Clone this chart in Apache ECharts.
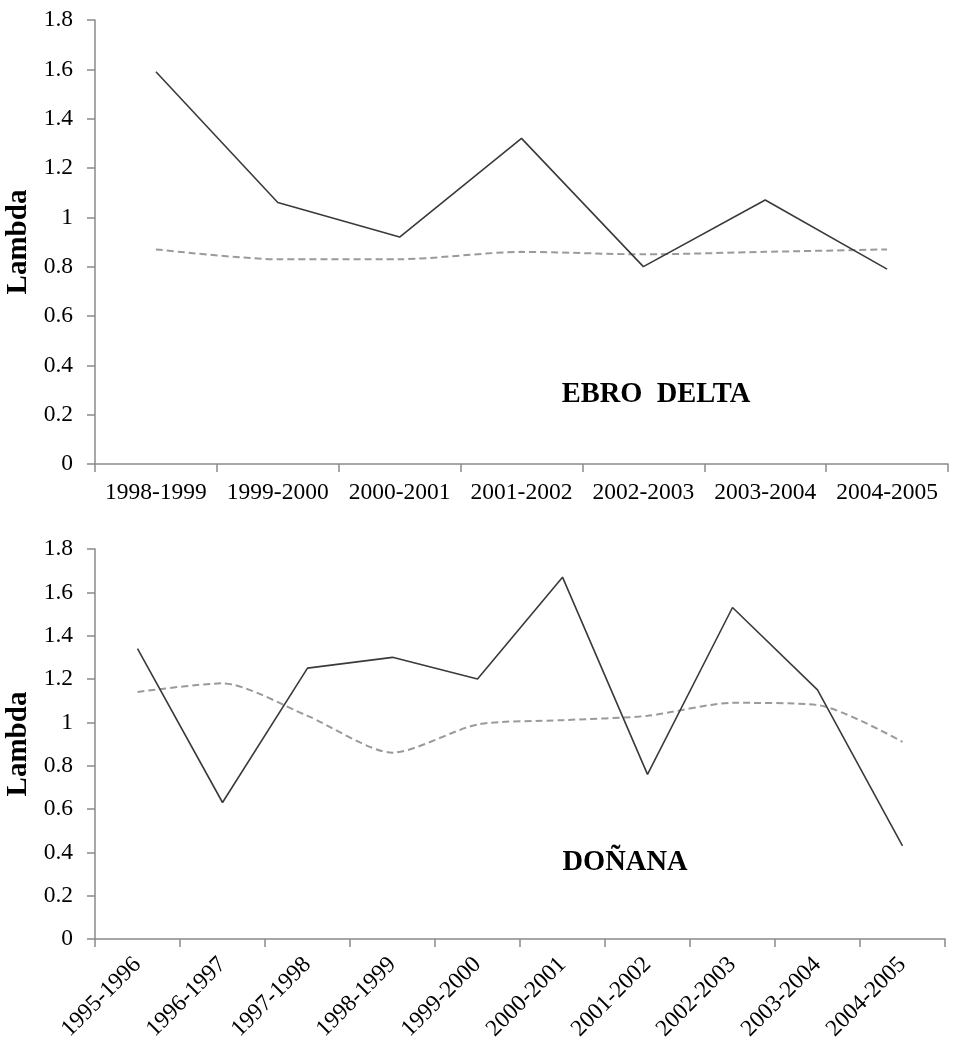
<!DOCTYPE html>
<html>
<head>
<meta charset="utf-8">
<script src="https://cdn.jsdelivr.net/npm/echarts@6/dist/echarts.min.js"></script>
<style>
html,body{margin:0;padding:0;background:#fff;}
#c{width:953px;height:1050px;}
</style>
</head>
<body>
<div id="c"></div>
<script>
const ebroCategories = ['1998-1999','1999-2000','2000-2001','2001-2002','2002-2003','2003-2004','2004-2005'];
const ebroSolid = [1.59, 1.06, 0.92, 1.32, 0.80, 1.07, 0.79];
const ebroDashed = [0.87, 0.83, 0.83, 0.86, 0.85, 0.86, 0.87];

const donanaCategories = ['1995-1996','1996-1997','1997-1998','1998-1999','1999-2000','2000-2001','2001-2002','2002-2003','2003-2004','2004-2005'];
const donanaSolid = [1.34, 0.63, 1.25, 1.30, 1.20, 1.67, 0.76, 1.53, 1.15, 0.43];
const donanaDashed = [1.14, 1.18, 1.03, 0.86, 0.99, 1.01, 1.03, 1.09, 1.08, 0.91];

const yTicks = {min: 0, max: 1.8, interval: 0.2};
const yName = 'Lambda';
const ebroTitle = 'EBRO  DELTA';
const donanaTitle = 'DOÑANA';

const FONT = '"Liberation Serif", "Times New Roman", serif';
const axisGray = '#8a8a8a';

function yAxisCfg(gridIndex){
  return {
    type: 'value', gridIndex: gridIndex,
    min: yTicks.min, max: yTicks.max, interval: yTicks.interval,
    name: yName, nameLocation: 'middle', nameGap: 59, nameRotate: 90,
    nameTextStyle: {fontFamily: FONT, fontSize: 29, fontWeight: 'bold', color: '#000'},
    axisLine: {show: true, lineStyle: {color: axisGray, width: 1.5}},
    axisTick: {show: true, length: 8, inside: false, lineStyle: {color: axisGray, width: 1.5}},
    axisLabel: {fontFamily: FONT, fontSize: 23.5, color: '#000', margin: 22},
    splitLine: {show: false}
  };
}
function xAxisCfg(gridIndex, data, rotate, margin){
  return {
    type: 'category', gridIndex: gridIndex, data: data, boundaryGap: true,
    axisLine: {show: true, lineStyle: {color: axisGray, width: 1.5}},
    axisTick: {show: true, length: 8, alignWithLabel: false, lineStyle: {color: axisGray, width: 1.5}},
    axisLabel: {fontFamily: FONT, fontSize: 23.5, color: '#000', margin: margin, rotate: rotate, interval: 0},
    splitLine: {show: false}
  };
}
function solid(idx, data){
  return {type: 'line', xAxisIndex: idx, yAxisIndex: idx, data: data, showSymbol: false, symbol: 'none',
    lineStyle: {color: '#3a3a3a', width: 1.6, type: 'solid'}, silent: true, animation: false};
}
function dashed(idx, data){
  return {type: 'line', xAxisIndex: idx, yAxisIndex: idx, data: data, showSymbol: false, symbol: 'none', smooth: 0.25,
    lineStyle: {color: '#9a9a9a', width: 2, type: [7, 4]}, silent: true, animation: false};
}

const chart = echarts.init(document.getElementById('c'), null, {renderer: 'canvas'});
chart.setOption({
  backgroundColor: '#fff',
  animation: false,
  grid: [
    {left: 95, top: 20, width: 853, height: 444, containLabel: false, outerBoundsMode: 'none'},
    {left: 95, top: 549, width: 850, height: 390, containLabel: false, outerBoundsMode: 'none'}
  ],
  xAxis: [xAxisCfg(0, ebroCategories, 0, 17), xAxisCfg(1, donanaCategories, 45, 22)],
  yAxis: [yAxisCfg(0), yAxisCfg(1)],
  series: [dashed(0, ebroDashed), solid(0, ebroSolid), dashed(1, donanaDashed), solid(1, donanaSolid)],
  graphic: [
    {type: 'text', style: {text: ebroTitle, x: 656, y: 395, align: 'center', verticalAlign: 'middle',
      font: 'bold 28.5px ' + FONT, fill: '#000'}},
    {type: 'text', style: {text: donanaTitle, x: 625, y: 863, align: 'center', verticalAlign: 'middle',
      font: 'bold 28.5px ' + FONT, fill: '#000'}}
  ]
});
</script>
</body>
</html>
